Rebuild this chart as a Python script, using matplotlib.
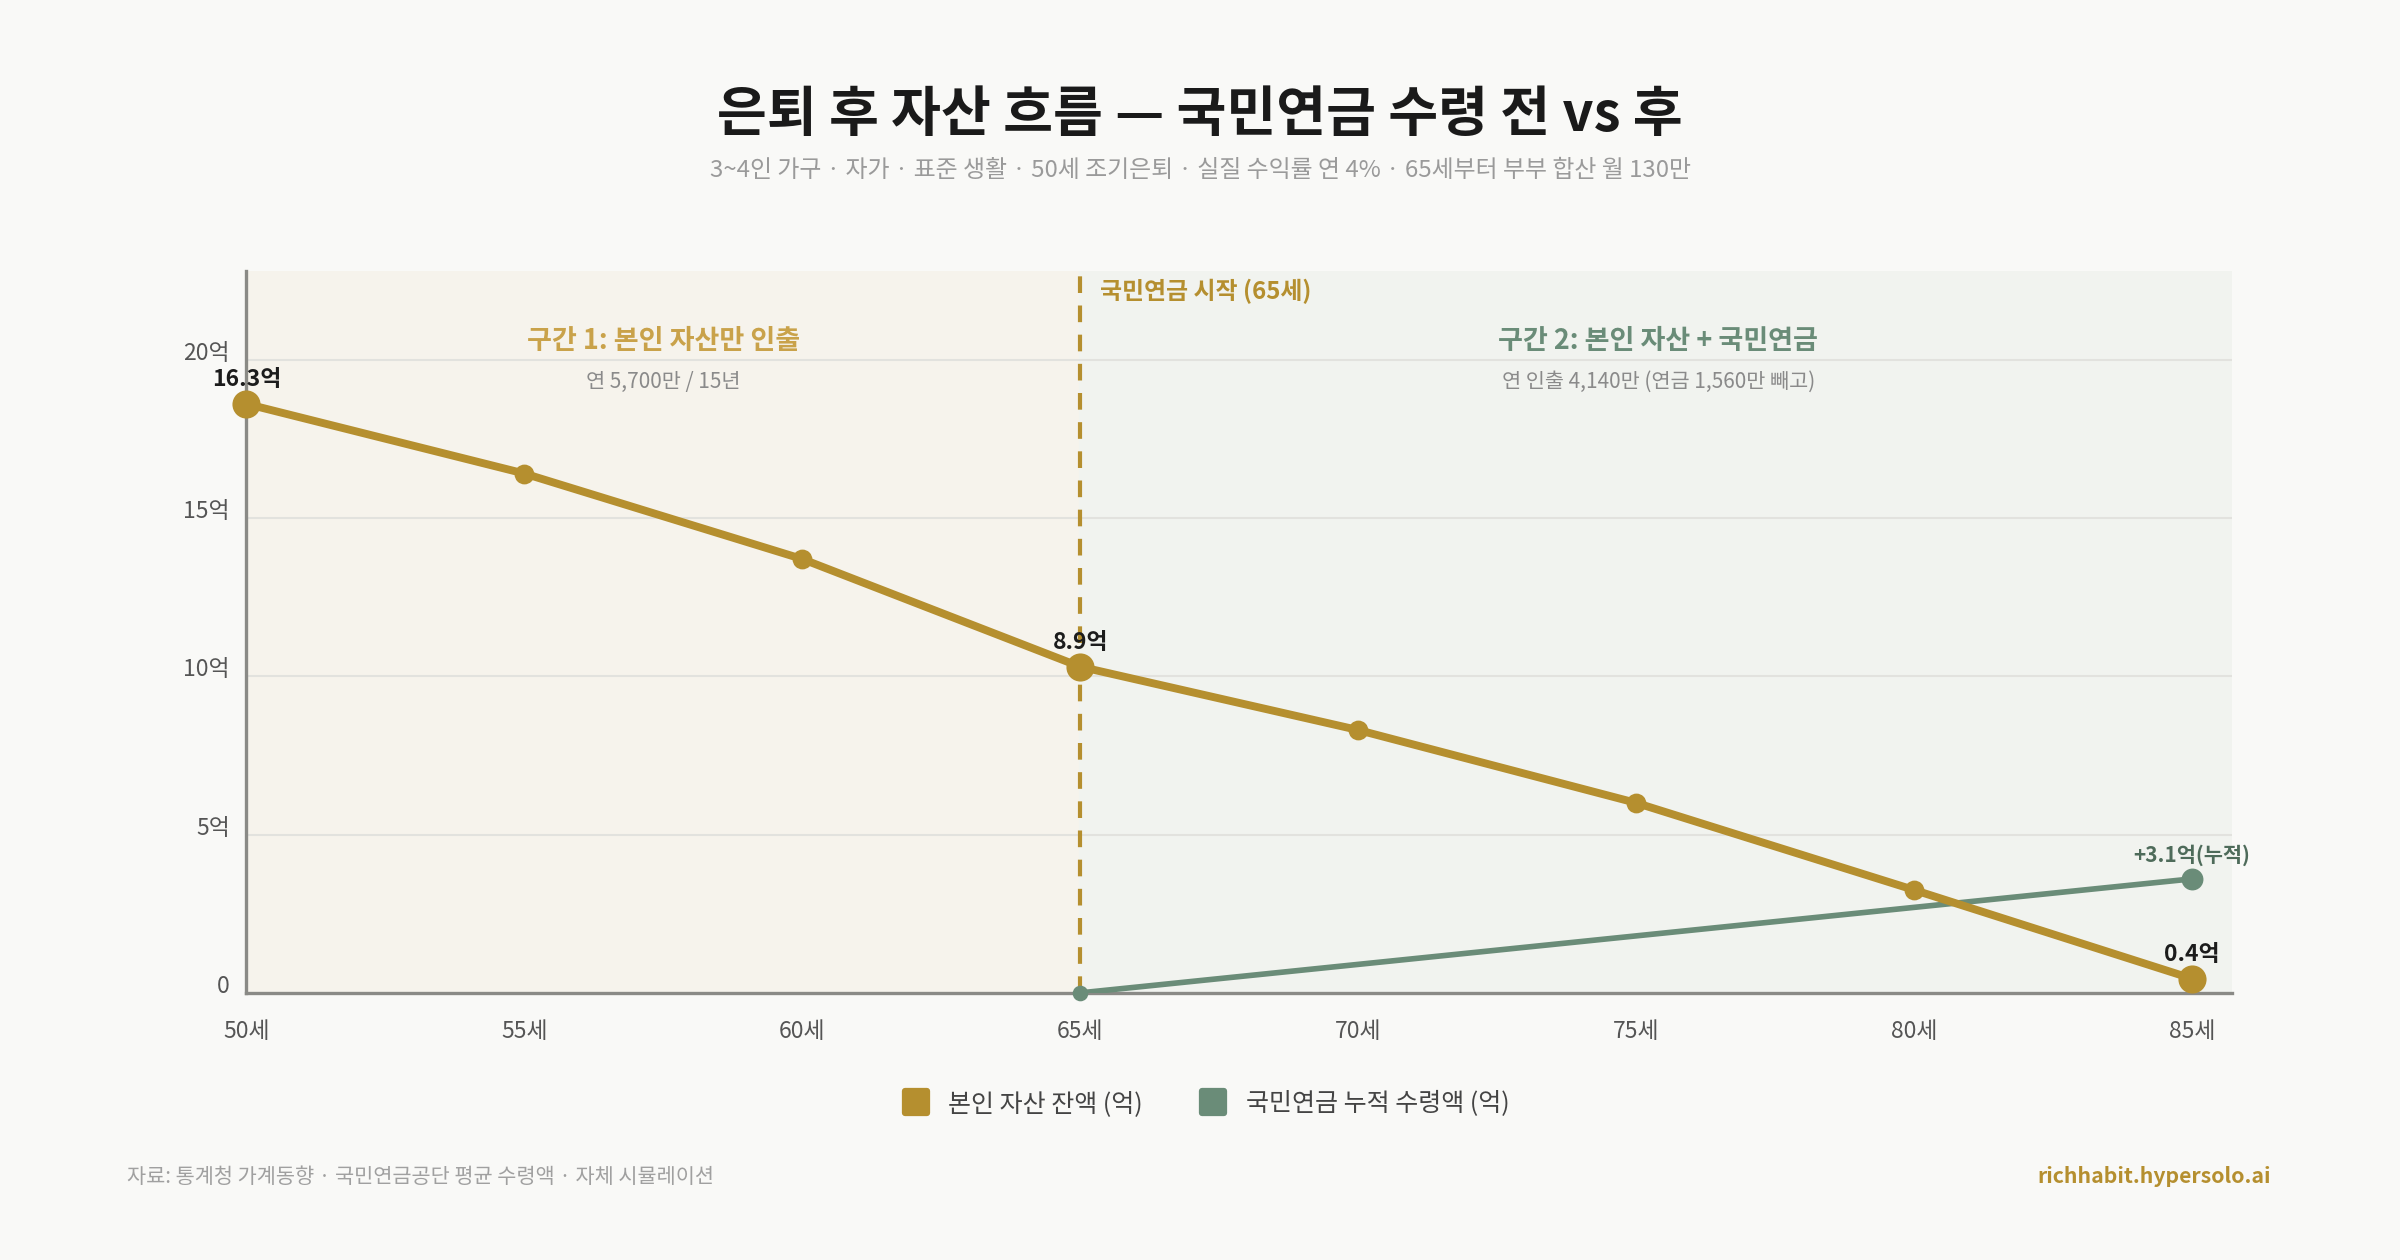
import matplotlib
matplotlib.use("Agg")
import matplotlib.pyplot as plt
from matplotlib.lines import Line2D
from matplotlib.markers import MarkerStyle

plt.rcParams["font.family"] = ["Noto Sans CJK KR", "DejaVu Sans"]

GOLD = "#b58f2f"
GREEN = "#6a8c78"
BG = "#f9f9f7"

ages = [50, 55, 60, 65, 70, 75, 80, 85]
asset = [18.6, 16.4, 13.7, 10.3, 8.3, 6.0, 3.25, 0.45]
pension_ages = [65, 70, 75, 80, 85]
pension = [0.0, 0.9, 1.8, 2.7, 3.6]
yticks = [0, 5, 10, 15, 20]
ytick_labels = ["0", "5억", "10억", "15억", "20억"]
xtick_labels = [f"{a}세" for a in ages]
value_labels = {50: "16.3억", 65: "8.9억", 85: "0.4억"}
pension_label = "+3.1억(누적)"

fig = plt.figure(figsize=(16, 8.4), dpi=150, facecolor=BG)
ax = fig.add_axes([0.1027, 0.212, 0.8273, 0.573])
ax.set_facecolor(BG)
ax.set_xlim(50, 85.72)
ax.set_ylim(0, 22.8)

# phase shading
ax.axvspan(50, 65, color="#f6f3ec", zorder=0)
ax.axvspan(65, 85.72, color="#f1f3ef", zorder=0)
for y in yticks[1:]:
    ax.axhline(y, color="#e2e2de", lw=1, zorder=1)
ax.axvline(65, color=GOLD, lw=2, ls=(0, (4, 3)), zorder=2)

# asset line
ax.plot(ages, asset, color=GOLD, lw=3.8, zorder=4, solid_capstyle="round")
big = [0, 3, 7]
ax.plot([ages[i] for i in big], [asset[i] for i in big], "o", color=GOLD,
        ms=12.5, zorder=5, clip_on=False)
small = [1, 2, 4, 5, 6]
ax.plot([ages[i] for i in small], [asset[i] for i in small], "o", color=GOLD,
        ms=8.5, zorder=5)

# pension line
ax.plot(pension_ages, pension, color=GREEN, lw=2.7, zorder=3)
ax.plot(pension_ages[0], pension[0], "o", color=GREEN, ms=6.5, zorder=5, clip_on=False)
ax.plot(pension_ages[-1], pension[-1], "o", color=GREEN, ms=9.5, zorder=5)

for a, txt in value_labels.items():
    v = asset[ages.index(a)]
    ax.annotate(txt, (a, v), textcoords="offset points", xytext=(0, 6),
                ha="center", va="bottom", fontsize=11, fontweight="bold", color="#1c1c1c",
                zorder=6)
ax.annotate(pension_label, (pension_ages[-1], pension[-1]), textcoords="offset points",
            xytext=(0, 6), ha="center", va="bottom", fontsize=10, fontweight="bold",
            color="#4e6b5a", zorder=6)

# phase annotations
ax.text(57.5, 20.6, "구간 1: 본인 자산만 인출", ha="center", va="center",
        fontsize=13, fontweight="bold", color="#c9a24a")
ax.text(57.5, 19.3, "연 5,700만 / 15년", ha="center", va="center",
        fontsize=10, color="#8a8a8a")
ax.text(75.4, 20.6, "구간 2: 본인 자산 + 국민연금", ha="center", va="center",
        fontsize=13, fontweight="bold", color="#6a8c78")
ax.text(75.4, 19.3, "연 인출 4,140만 (연금 1,560만 빼고)", ha="center", va="center",
        fontsize=10, color="#8a8a8a")
ax.text(65.35, 22.15, "국민연금 시작 (65세)", ha="left", va="center",
        fontsize=11.5, fontweight="bold", color=GOLD)

ax.set_xticks(ages, xtick_labels)
ax.set_yticks(yticks, ytick_labels)
ax.tick_params(length=0, labelsize=11, colors="#555555")
ax.tick_params(axis="x", pad=13)
ax.tick_params(axis="y", pad=8)
for lab in ax.get_yticklabels():
    lab.set_verticalalignment("baseline")
for s in ["top", "right"]:
    ax.spines[s].set_visible(False)
for s in ["left", "bottom"]:
    ax.spines[s].set_color("#8a8a86")
    ax.spines[s].set_linewidth(1.6)

fig.text(0.5, 0.908, "은퇴 후 자산 흐름 — 국민연금 수령 전 vs 후", ha="center", va="center",
         fontsize=26, fontweight="bold", color="#1a1a1a")
fig.text(0.5, 0.865, "3~4인 가구 · 자가 · 표준 생활 · 50세 조기은퇴 · 실질 수익률 연 4% · 65세부터 부부 합산 월 130만",
         ha="center", va="center", fontsize=11.5, color="#9a9a9a")

sq = MarkerStyle("s", joinstyle="round")
handles = [Line2D([], [], ls="none", marker=sq, ms=11, mew=3, color=GOLD),
           Line2D([], [], ls="none", marker=sq, ms=11, mew=3, color=GREEN)]
fig.legend(handles, ["본인 자산 잔액 (억)", "국민연금 누적 수령액 (억)"], loc="center",
           bbox_to_anchor=(0.5, 0.124), ncol=2, frameon=False, fontsize=12,
           labelcolor="#444444", columnspacing=1.8, handletextpad=0.3)

fig.text(0.053, 0.066, "자료: 통계청 가계동향 · 국민연금공단 평균 수령액 · 자체 시뮬레이션",
         ha="left", va="center", fontsize=10, color="#a0a0a0")
fig.text(0.946, 0.066, "richhabit.hypersolo.ai", ha="right", va="center",
         fontsize=10.2, fontweight="bold", color=GOLD)

fig.savefig("out.png", dpi=150, facecolor=BG)
